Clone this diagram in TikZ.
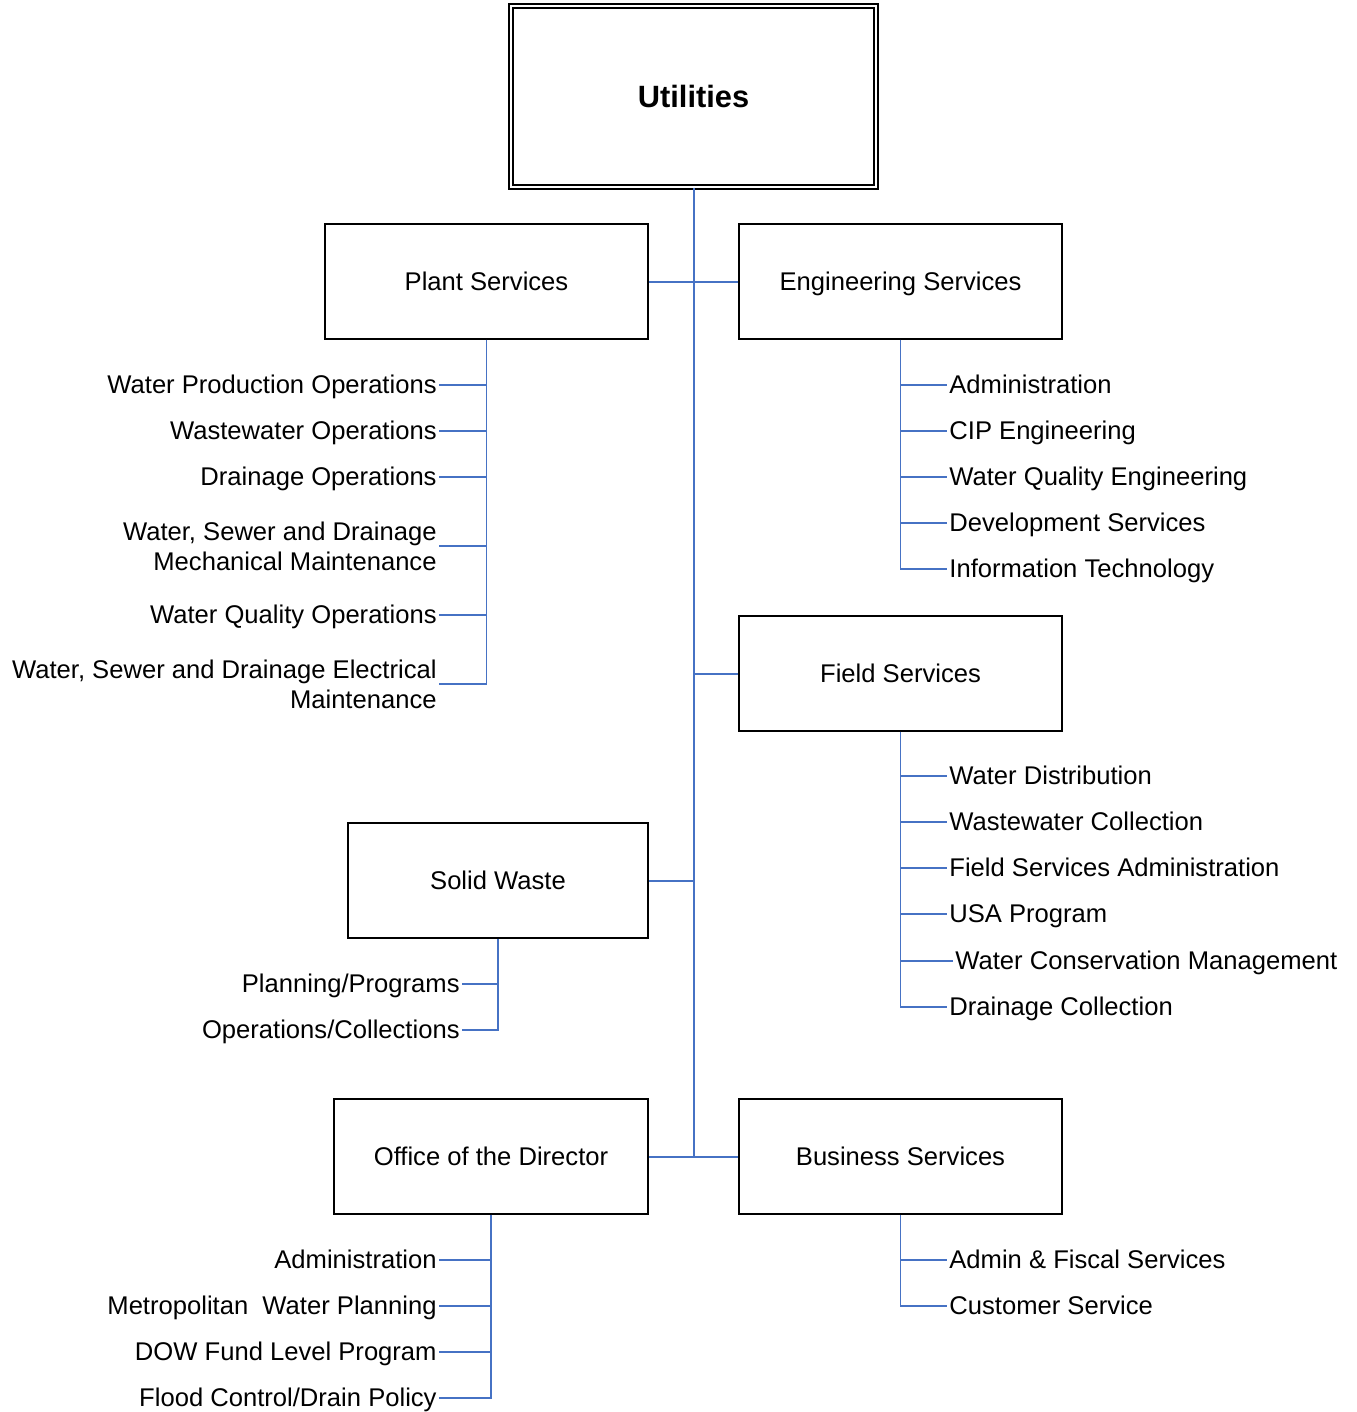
\documentclass[tikz,border=0pt]{standalone}
\usepackage{fontspec}
\setmainfont{Liberation Sans}
\usepackage{tikz}
\usetikzlibrary{positioning}
\definecolor{linkblue}{RGB}{70,114,196}
\tikzset{%
	unitbox/.style  = {draw, rectangle, line width=0.8pt, minimum height=57.5pt, inner sep=0pt, text height=9.2pt, text depth=0pt, text centered},
	headbox/.style  = {draw, rectangle, double, line width=0.6pt, double distance=1.4pt, minimum width=182.5pt, minimum height=90.5pt, inner sep=0pt, font=\bfseries\fontsize{15.4pt}{18pt}\selectfont},
	subleft/.style  = {anchor=east, inner sep=1pt, text height=8.8pt, text depth=0.8pt},
	subright/.style = {anchor=west, inner sep=1pt, text height=8.8pt, text depth=0.8pt},
	subtwo/.style   = {anchor=east, inner sep=1pt, align=right, font=\fontsize{12.8pt}{15pt}\selectfont},
	link/.style     = {draw=linkblue, line width=1pt},
	sublink/.style  = {draw=linkblue, line width=0.7pt},
}

\begin{document}
\begin{tikzpicture}[x=0.5pt,y=-0.5pt,font=\fontsize{12.8pt}{14pt}\selectfont]
	\useasboundingbox (0,0) rectangle (1356,1412);
	
	\node[headbox] (util) at (693.5,96.5) {Utilities};
	\node[unitbox, minimum width=161.5pt] (ps) at (486.5,281.5) {Plant Services};
	\node[unitbox, minimum width=161.5pt] (es) at (900.5,281.5) {Engineering Services};
	\node[unitbox, minimum width=161.5pt] (fs) at (900.5,673.5) {Field Services};
	\node[unitbox, minimum width=150pt] (sw) at (498,880.5) {Solid Waste};
	\node[unitbox, minimum width=157pt] (od) at (491,1156.5) {Office of the Director};
	\node[unitbox, minimum width=161.5pt] (bs) at (900.5,1156.5) {Business Services};
	
	\draw[link] (util.south) -- (util.south |- bs.west);
	\draw[link] (ps.east) -- (es.west);
	\draw[link] (util.south |- fs.west) -- (fs.west);
	\draw[link] (sw.east) -- (util.south |- sw.east);
	\draw[link] (od.east) -- (bs.west);
	
	% plant services
	\node[subleft] (ps-1) at (439,385) {Water Production Operations};
	\node[subleft] (ps-2) at (439,431) {Wastewater Operations};
	\node[subleft] (ps-3) at (439,477) {Drainage Operations};
	\node[subtwo]  (ps-4) at (439,546) {Water, Sewer and Drainage\\Mechanical Maintenance};
	\node[subleft] (ps-5) at (439,615) {Water Quality Operations};
	\node[subtwo]  (ps-6) at (439,684) {Water, Sewer and Drainage Electrical\\Maintenance};
	\foreach \i in {1,...,6} \draw[sublink] (ps.south) |- (ps-\i.east);
	
	% engineering services
	\foreach \txt [count=\i] in {Administration, CIP Engineering, Water Quality Engineering, Development Services, Information Technology} \node[subright] (es-\i) at (947,{385+46*(\i-1)}) {\txt};
	\foreach \i in {1,...,5} \draw[sublink] (es.south) |- (es-\i.west);
	
	% field services
	\foreach \txt [count=\i] in {Water Distribution, Wastewater Collection, Field Services Administration, USA Program} \node[subright] (fs-\i) at (947,{776+46*(\i-1)}) {\txt};
	\node[subright] (fs-5) at (953,961) {Water Conservation Management};
	\node[subright] (fs-6) at (947,1007) {Drainage Collection};
	\foreach \i in {1,...,6} \draw[sublink] (fs.south) |- (fs-\i.west);
	
	% solid waste
	\node[subleft] (sw-1) at (462,984) {Planning/Programs};
	\node[subleft] (sw-2) at (462,1030) {Operations/Collections};
	\foreach \i in {1,2} \draw[sublink] (sw.south) |- (sw-\i.east);
	
	% office of the director
	\foreach \txt [count=\i] in {Administration, Metropolitan~ Water Planning, DOW Fund Level Program, Flood Control/Drain Policy} \node[subleft] (od-\i) at (439,{1260+46*(\i-1)}) {\txt};
	\foreach \i in {1,...,4} \draw[sublink] (od.south) |- (od-\i.east);
	
	% business services
	\node[subright] (bs-1) at (947,1260) {Admin \& Fiscal Services};
	\node[subright] (bs-2) at (947,1306) {Customer Service};
	\foreach \i in {1,2} \draw[sublink] (bs.south) |- (bs-\i.west);
\end{tikzpicture}
\end{document}
